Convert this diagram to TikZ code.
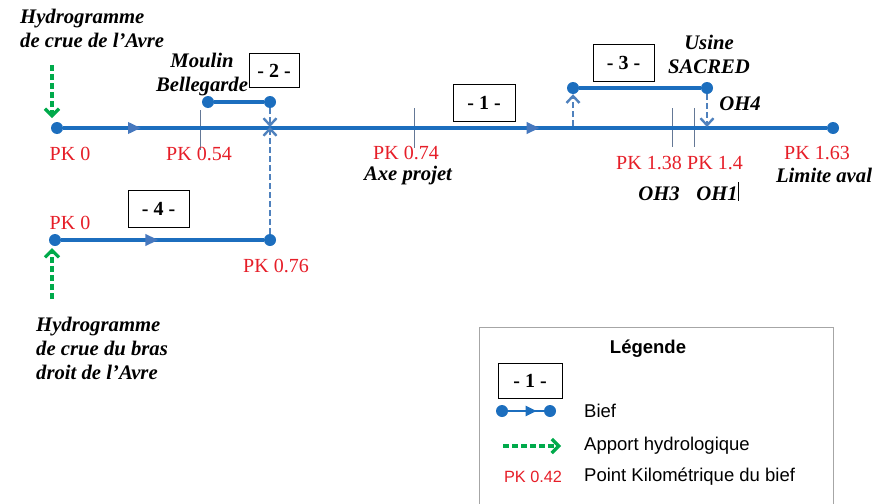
\documentclass[tikz,border=0pt]{standalone}
\usepackage{fontspec}
\setmainfont{Liberation Serif}
\setsansfont{Liberation Sans}
\usetikzlibrary{arrows.meta,decorations.markings}
\definecolor{reachblue}{RGB}{28,110,190}
\definecolor{markblue}{RGB}{70,120,190}
\definecolor{linkblue}{RGB}{79,129,189}
\definecolor{inflowgreen}{RGB}{0,170,75}
\definecolor{pkred}{RGB}{230,30,40}
\definecolor{tickgray}{RGB}{100,120,150}
\newcommand\lblfont{\fontsize{20}{24}\selectfont}
\newcommand\placefont{\fontsize{20.7}{24}\selectfont}
\newcommand\legfont{\fontsize{18.5}{22}\selectfont}
\begin{document}
\begin{tikzpicture}[x=1pt,y=-1pt,
  dot/.style={circle,fill=reachblue,inner sep=0pt,minimum size=12pt},
  reach/.style={draw=reachblue,line width=3.8pt},
  link/.style={draw=linkblue,line width=2.4pt,dash pattern=on 6pt off 3pt,-{Straight Barb[length=7pt,width=13pt]}},
  inflow/.style={draw=inflowgreen,line width=3.2pt,dash pattern=on 6pt off 3pt,-{Straight Barb[length=7pt,width=14pt]}},
  tickmark/.style={draw=tickgray,line width=1pt},
  numbox/.style={draw=black,line width=0.8pt,inner sep=0pt,font=\bfseries\lblfont},
  pk/.style={text=pkred,font=\lblfont,inner sep=0pt},
  place/.style={font=\bfseries\itshape\placefont,align=center,inner sep=0pt},
  legtext/.style={font=\sffamily\legfont,anchor=west,inner sep=0pt},
  midarrow/.style={postaction={decorate},decoration={markings,mark=at position #1 with {\arrow[markblue]{Triangle[length=13pt,width=11pt]}}}}
]
\useasboundingbox (0,0) rectangle (890,503);

% ---- ticks (behind)
\draw[tickmark] (200,110) -- (200,150);
\draw[tickmark] (414,108) -- (414,148);
\draw[tickmark] (672,108) -- (672,147);
\draw[tickmark] (694,108) -- (694,147);
\draw[line width=0.8pt] (738,182) -- (738,201);

% ---- main reach 1
\node[dot] (m0) at (57,128) {};
\node[dot] (m1) at (833,128) {};
\draw[reach,
  postaction={decorate},
  decoration={markings,
    mark=at position 0.102 with {\arrow[markblue]{Triangle[length=13pt,width=11pt]}},
    mark=at position 0.624 with {\arrow[markblue]{Triangle[length=13pt,width=11pt]}}}]
  (m0) -- (m1);

% ---- reach 2
\node[dot] (r2a) at (208,102) {};
\node[dot] (r2b) at (270,102) {};
\draw[reach] (r2a) -- (r2b);

% ---- reach 3
\node[dot] (r3a) at (573,88) {};
\node[dot] (r3b) at (707,88) {};
\draw[reach] (r3a) -- (r3b);

% ---- reach 4
\node[dot] (r4a) at (55,240) {};
\node[dot] (r4b) at (270,240) {};
\draw[reach,midarrow=0.48] (r4a) -- (r4b);

% ---- junction links
\coordinate (j2) at (270,127);
\coordinate (j3a) at (573,126);
\coordinate (j3b) at (707,127);
\draw[link] (r2b) -- (j2);
\draw[link] (r4b) -- (j2);
\draw[link] (j3a) -- (r3a);
\draw[link] (r3b) -- (j3b);

% ---- inflows
\coordinate (g1a) at (52,65);
\coordinate (g1b) at (52,118);
\draw[inflow] (g1a) -- (g1b);
\coordinate (g2a) at (52,299);
\coordinate (g2b) at (52,248);
\draw[inflow] (g2a) -- (g2b);

% ---- number boxes
\node[numbox,minimum width=62pt,minimum height=37pt] (b1) at (484,102.5) {- 1 -};
\node[numbox,minimum width=50pt,minimum height=34pt] (b2) at (274,70.5) {- 2 -};
\node[numbox,minimum width=61pt,minimum height=37pt] (b3) at (623.5,62.5) {- 3 -};
\node[numbox,minimum width=61pt,minimum height=37pt] (b4) at (158.5,209) {- 4 -};

% ---- PK labels
\node[pk] (pk0) at (70,154) {PK 0};
\node[pk] (pk054) at (199,154) {PK 0.54};
\node[pk] (pk074) at (406,153) {PK 0.74};
\node[pk] (pk138) at (649,163) {PK 1.38};
\node[pk] (pk14) at (715,163) {PK 1.4};
\node[pk] (pk163) at (817,153) {PK 1.63};
\node[pk] (pk0b) at (70,223) {PK 0};
\node[pk] (pk076) at (276,266) {PK 0.76};

% ---- place names
\node[place,anchor=north west,align=left] (hyd1) at (20,9) {Hydrogramme\\de crue de l'Avre};
\node[place] (moulin) at (202,75) {Moulin\\Bellegarde};
\node[place] (axe) at (408,176) {Axe projet};
\node[place] (usine) at (709,54) {Usine\\SACRED};
\node[place] (oh4) at (740,104) {OH4};
\node[place] (oh3) at (659,194) {OH3};
\node[place] (oh1) at (717,194) {OH1};
\node[place] (lim) at (824,175) {Limite aval};
\node[place,anchor=north west,align=left] (hyd2) at (36,317) {Hydrogramme\\de crue du bras\\droit de l'Avre};

% ---- legend
\draw[draw=gray!70,line width=0.8pt] (479,504) -- (479,327) -- (833,327) -- (833,504);
\node[font=\sffamily\bfseries\legfont,inner sep=0pt] (legt) at (648,349) {Légende};
\node[numbox,minimum width=64pt,minimum height=35pt] (lb1) at (530,380.5) {- 1 -};
\node[dot] (ld1) at (502,411) {};
\node[dot] (ld2) at (550,411) {};
\draw[draw=reachblue,line width=2.2pt,
  postaction={decorate},
  decoration={markings,mark=at position 0.8 with {\arrow[reachblue]{Triangle[length=11pt,width=10pt]}}}]
  (ld1) -- (ld2);
\coordinate (lg1) at (503,446);
\coordinate (lg2) at (561,446);
\draw[inflow] (lg1) -- (lg2);
\node[text=pkred,font=\sffamily\fontsize{16.3}{19}\selectfont,inner sep=0pt] (lpk) at (533,477) {PK 0.42};
\node[legtext] (lbief) at (584,411) {Bief};
\node[legtext] (lapp) at (584,446) {Apport hydrologique};
\node[legtext] (lpkt) at (584,477) {Point Kilométrique du bief};
\end{tikzpicture}
\end{document}
